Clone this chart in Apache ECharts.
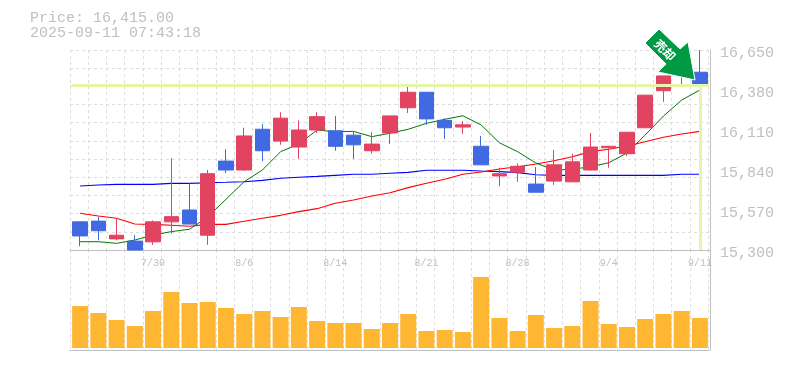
<!DOCTYPE html>
<html>
<head>
<meta charset="utf-8">
<style>
html, body { margin: 0; padding: 0; background: #fff; }
#chart { width: 785px; height: 370px; }
</style>
<script src="https://cdn.jsdelivr.net/npm/echarts@6/dist/echarts.min.js"></script>
</head>
<body>
<div id="chart"></div>
<script>
const dates = ['7/24', '7/25', '7/28', '7/29', '7/30', '7/31', '8/1', '8/4', '8/5', '8/6', '8/7', '8/8', '8/12', '8/13', '8/14', '8/15', '8/18', '8/19', '8/20', '8/21', '8/22', '8/25', '8/26', '8/27', '8/28', '8/29', '9/1', '9/2', '9/3', '9/4', '9/5', '9/8', '9/9', '9/10', '9/11']
const open = [15490, 15495, 15375, 15360, 15355, 15490, 15570, 15400, 15900, 15840, 16115, 16035, 15995, 16110, 16105, 16075, 15970, 16090, 16260, 16365, 16175, 16130, 16000, 15800, 15825, 15745, 15765, 15760, 15840, 15990, 15950, 16125, 16375, 16500, 16500]
const close = [15395, 15430, 15400, 15300, 15490, 15525, 15475, 15815, 15840, 16070, 15970, 16190, 16110, 16200, 16000, 16010, 16015, 16205, 16365, 16185, 16125, 16145, 15875, 15815, 15865, 15690, 15875, 15895, 15995, 16000, 16095, 16345, 16475, 16580, 16415]
const low = [15325, 15365, 15365, 15300, 15335, 15410, 15475, 15335, 15820, 15835, 15900, 16010, 15915, 16090, 15970, 15915, 15950, 16015, 16225, 16145, 16050, 16085, 15875, 15730, 15760, 15690, 15740, 15760, 15835, 15855, 15935, 16125, 16300, 16415, 16365]
const high = [15490, 15525, 15515, 15400, 15500, 15920, 15750, 15840, 15980, 16125, 16150, 16230, 16175, 16230, 16205, 16100, 16095, 16205, 16405, 16365, 16190, 16170, 16070, 15855, 15885, 15860, 15975, 15950, 16090, 16000, 16095, 16345, 16475, 16580, 16650]
const ma5 = [15356, 15356, 15345, 15367, 15401, 15424, 15440, 15523, 15642, 15761, 15840, 15964, 16015, 16110, 16098, 16101, 16065, 16088, 16115, 16155, 16182, 16206, 16144, 16024, 15964, 15887, 15840, 15845, 15862, 15889, 15955, 16076, 16204, 16312, 16380]
const ma25 = [15548, 15530, 15514, 15475, 15473, 15467, 15460, 15473, 15473, 15494, 15514, 15534, 15559, 15579, 15615, 15637, 15664, 15687, 15721, 15750, 15777, 15811, 15826, 15847, 15862, 15880, 15903, 15930, 15964, 15980, 16002, 16031, 16061, 16083, 16101]
const ma75 = [15732, 15739, 15743, 15743, 15743, 15750, 15750, 15754, 15757, 15761, 15770, 15784, 15791, 15797, 15804, 15811, 15811, 15818, 15824, 15838, 15838, 15838, 15833, 15829, 15822, 15808, 15804, 15804, 15804, 15804, 15804, 15804, 15804, 15811, 15811]
const volume = [42, 35, 28, 22, 37, 56, 45, 46, 40, 34, 37, 31, 41, 27, 25, 25, 19, 25, 34, 17, 18, 16, 71, 30, 17, 33, 20, 22, 47, 24, 21, 29, 34, 37, 30]
const lastPrice = 16415
const priceMin = 15300
const priceMax = 16650
const priceStep = 270

const candles = dates.map((d, i) => [open[i], close[i], low[i], high[i]])
const gray = '#c0c0c0'
const dash = { type: [3, 3], color: '#dddddd', width: 1 }
const mono = '"Liberation Mono", monospace'

// grid lines do not follow the price ticks, so they get their own axes
const frameX = (gridIndex) => ({
  type: 'value',
  gridIndex,
  min: 0,
  max: 35.1,
  interval: 1,
  axisLine: { show: true, onZero: false, lineStyle: { color: gray, width: 1 } },
  axisTick: { show: false },
  axisLabel: { show: false },
  splitLine: { show: true, lineStyle: dash }
})
const frameY = (gridIndex, max, showSplit) => ({
  type: 'value',
  gridIndex,
  position: 'right',
  min: 0,
  max,
  interval: 1,
  axisLine: { show: true, onZero: false, lineStyle: { color: gray, width: 1 } },
  axisTick: { show: false },
  axisLabel: { show: false },
  splitLine: { show: showSplit, lineStyle: dash }
})
const maLine = (name, data, color, width) => ({
  name,
  type: 'line',
  xAxisIndex: 2,
  yAxisIndex: 2,
  data,
  symbol: 'none',
  z: 3,
  lineStyle: { color, width },
  silent: true
})

const option = {
  animation: false,
  title: {
    text: 'Price: 16,415.00\n2025-09-11 07:43:18',
    left: 30,
    top: 11,
    padding: 0,
    textStyle: { fontFamily: mono, fontSize: 15, fontWeight: 'normal', color: gray, lineHeight: 15 }
  },
  grid: [
    { left: 70, top: 50, width: 640, height: 200 },
    { left: 70, top: 250, width: 640, height: 100 },
    { left: 71, top: 50, width: 638, height: 200 },
    { left: 71, top: 250, width: 638, height: 98 }
  ],
  xAxis: [
    frameX(0),
    frameX(1),
    {
      type: 'category',
      gridIndex: 2,
      data: dates,
      axisLine: { show: false },
      axisTick: { show: false },
      axisLabel: {
        interval: (i) => i % 5 === 4,
        margin: 8,
        fontFamily: mono,
        fontSize: 10,
        color: gray
      }
    },
    {
      type: 'category',
      gridIndex: 3,
      data: dates,
      axisLine: { show: false },
      axisTick: { show: false },
      axisLabel: { show: false }
    }
  ],
  yAxis: [
    frameY(0, 11, true),
    frameY(1, 1, false),
    {
      type: 'value',
      gridIndex: 2,
      position: 'right',
      min: priceMin,
      max: priceMax,
      interval: priceStep,
      axisLine: { show: false },
      axisTick: { show: false },
      splitLine: { show: false },
      axisLabel: {
        margin: 11,
        verticalAlign: 'top',
        lineHeight: 6,
        fontFamily: mono,
        fontSize: 15,
        color: gray,
        formatter: (v) => v.toLocaleString('en-US')
      }
    },
    {
      type: 'value',
      gridIndex: 3,
      min: 0,
      max: 98,
      axisLine: { show: false },
      axisTick: { show: false },
      axisLabel: { show: false },
      splitLine: { show: false }
    }
  ],
  series: [
    {
      type: 'line',
      xAxisIndex: 2,
      yAxisIndex: 2,
      data: [],
      z: 2,
      markLine: {
        silent: true,
        symbol: 'none',
        label: { show: false },
        lineStyle: { color: '#e6f5a8', width: 3, type: 'solid' },
        data: [
          { yAxis: lastPrice },
          [{ coord: ['9/11', lastPrice] }, { coord: ['9/11', priceMin] }]
        ]
      }
    },
    maLine('MA75', ma75, '#0000ff', 1.1),
    maLine('MA25', ma25, '#ff0000', 1.1),
    maLine('MA5', ma5, '#007700', 1),
    {
      type: 'candlestick',
      xAxisIndex: 2,
      yAxisIndex: 2,
      data: candles,
      barWidth: 15,
      z: 4,
      itemStyle: {
        color: '#e14360',
        color0: '#4169e1',
        borderColor: '#e14360',
        borderColor0: '#4169e1',
        borderWidth: 1
      }
    },
    {
      type: 'bar',
      xAxisIndex: 3,
      yAxisIndex: 3,
      data: volume,
      barWidth: 16,
      itemStyle: { color: '#ffb733' }
    }
  ],
  graphic: [
    {
      type: 'polygon',
      z: 100,
      shape: { points: [[645, 43], [659, 29], [680, 49], [688, 42], [695, 80], [658, 72], [666, 64]] },
      style: { fill: '#009944', stroke: '#ffffff', lineWidth: 1 }
    },
    {
      type: 'text',
      z: 101,
      x: 665,
      y: 50,
      rotation: -Math.PI / 4,
      style: {
        text: '売却',
        fill: '#ffffff',
        font: 'bold 12px "Noto Sans CJK JP"',
        align: 'center',
        verticalAlign: 'middle'
      }
    }
  ]
}

const myChart = echarts.init(document.getElementById('chart'), null, { renderer: 'canvas' })
myChart.setOption(option)
</script>
</body>
</html>
